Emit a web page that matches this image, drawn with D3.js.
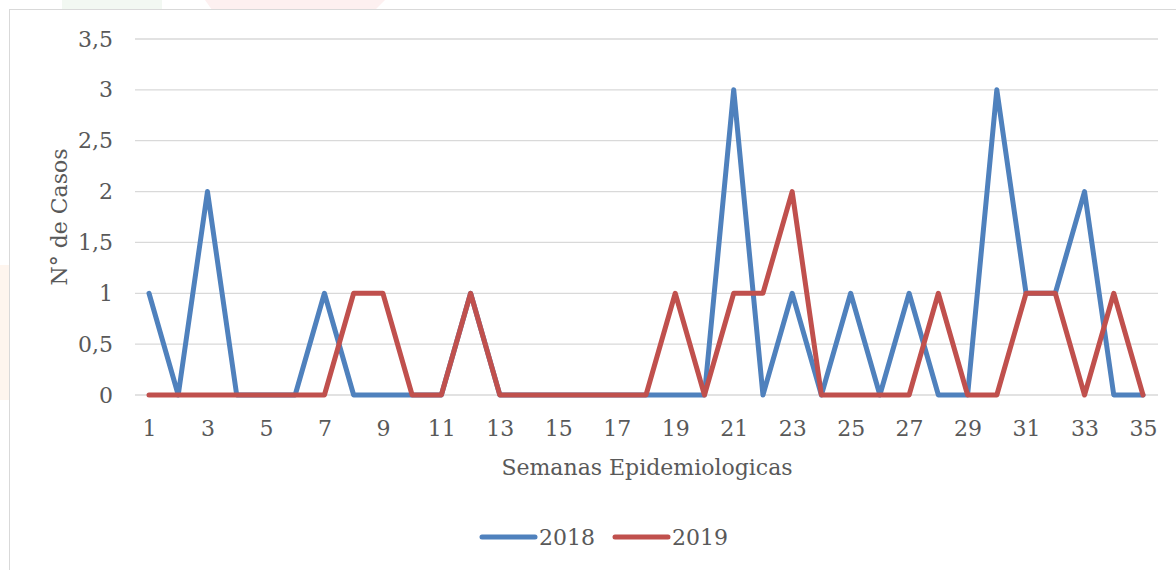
<!DOCTYPE html>
<html lang="es">
<head>
<meta charset="utf-8">
<script src="https://d3js.org/d3.v7.min.js"></script>
<style>
  body { margin: 0; background: #fff; }
  text { font-family: "DejaVu Serif", serif; fill: #595959; }
</style>
</head>
<body>
<svg id="chart" width="1176" height="570"></svg>
<script>
// semanas epidemiologicas
var weeks = d3.range(1, 36);
var casos2018 = [1,0,2,0,0,0,1,0,0,0,0,1,0,0,0,0,0,0,0,0,3,0,1,0,1,0,1,0,0,3,1,1,2,0,0];
var casos2019 = [0,0,0,0,0,0,0,1,1,0,0,1,0,0,0,0,0,0,1,0,1,1,2,0,0,0,0,1,0,0,1,1,0,1,0];
var yTicks = [0, 0.5, 1, 1.5, 2, 2.5, 3, 3.5];
var xTicks = weeks.filter(function(w) { return w % 2 == 1; });

var series = [
  { name: "2018", values: casos2018, color: "#4f81bd" },
  { name: "2019", values: casos2019, color: "#c0504d" }
];

var svg = d3.select("#chart");

// faint watermark bits peeking out from behind the chart box
svg.append("rect").attr("x", 62).attr("y", 0).attr("width", 100).attr("height", 10).attr("fill", "#f2f8f2");
svg.append("path").attr("d", "M205,0 L385,0 L375,10 L212,10 Z").attr("fill", "#fdf0f0");
svg.append("rect").attr("x", 0).attr("y", 265).attr("width", 9).attr("height", 135).attr("fill", "#fef5ee");

svg.append("rect")
    .attr("x", 9.5).attr("y", 9.5)
    .attr("width", 1180).attr("height", 600)
    .attr("fill", "#fff")
    .attr("stroke", "#d9d9d9");

var x = d3.scaleLinear().domain([1, 35]).range([149, 1143]);
var y = d3.scaleLinear().domain([0, 3.5]).range([395, 39]);

// gridlines
svg.append("g").selectAll("line")
  .data(yTicks)
  .enter().append("line")
    .attr("x1", 135).attr("x2", 1158)
    .attr("y1", function(d) { return y(d); })
    .attr("y2", function(d) { return y(d); })
    .attr("stroke", "#d9d9d9")
    .attr("stroke-width", 1.3);

var fmt = function(d) { return String(d).replace(".", ","); };

var yAxis = svg.append("g")
    .attr("transform", "translate(113,0)")
    .call(d3.axisLeft(y).tickValues(yTicks).tickFormat(fmt).tickSize(0).tickPadding(0));
yAxis.select(".domain").remove();
yAxis.selectAll("text").attr("font-size", 22).attr("fill", "#595959").attr("font-family", null);

var xAxis = svg.append("g")
    .attr("transform", "translate(0,414)")
    .call(d3.axisBottom(x).tickValues(xTicks).tickSize(0).tickPadding(6));
xAxis.select(".domain").remove();
xAxis.selectAll("text").attr("font-size", 22).attr("fill", "#595959").attr("font-family", null);

svg.append("text")
    .attr("x", 647).attr("y", 475)
    .attr("text-anchor", "middle")
    .attr("font-size", 22)
    .text("Semanas Epidemiologicas");

svg.append("text")
    .attr("transform", "translate(67,217) rotate(-90)")
    .attr("text-anchor", "middle")
    .attr("font-size", 22)
    .text("N° de Casos");

var line = d3.line()
    .x(function(d, i) { return x(weeks[i]); })
    .y(function(d) { return y(d); });

svg.append("g").selectAll("path")
  .data(series)
  .enter().append("path")
    .attr("d", function(s) { return line(s.values); })
    .attr("fill", "none")
    .attr("stroke", function(s) { return s.color; })
    .attr("stroke-width", 5)
    .attr("stroke-linejoin", "round")
    .attr("stroke-linecap", "round");

// legend
var legend = svg.append("g").selectAll("g")
  .data(series)
  .enter().append("g")
    .attr("transform", function(d, i) { return "translate(482," + 537 + ") translate(" + (i * 133) + ",0)"; });
legend.append("line")
    .attr("x1", 0).attr("x2", 53)
    .attr("stroke", function(d) { return d.color; })
    .attr("stroke-width", 5)
    .attr("stroke-linecap", "round");
legend.append("text")
    .attr("x", 57).attr("y", 8)
    .attr("font-size", 22)
    .text(function(d) { return d.name; });
</script>
</body>
</html>
